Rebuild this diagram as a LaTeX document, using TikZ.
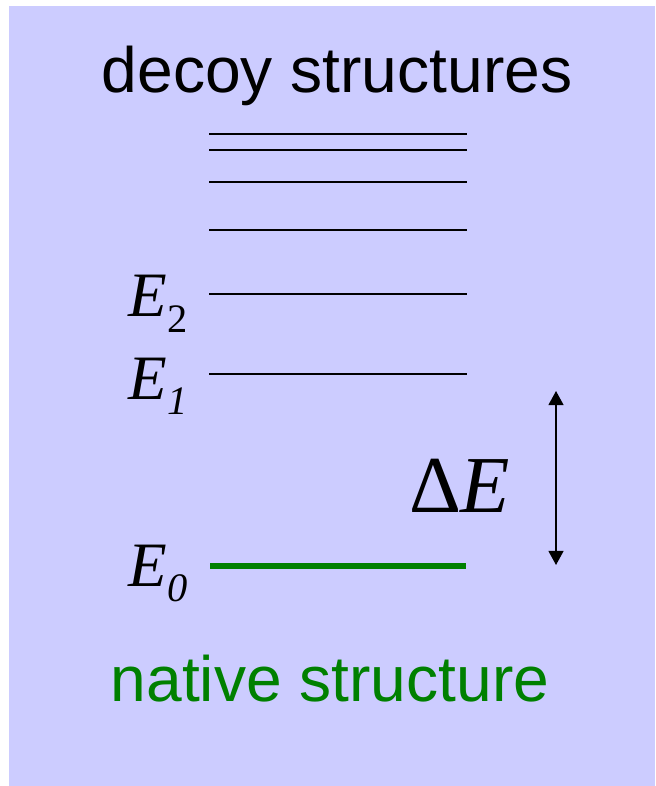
\documentclass[tikz,border=0pt]{standalone}
\usepackage{fontspec}
\setmainfont{Liberation Serif}
\newfontfamily\sansf{Liberation Sans}
\usetikzlibrary{arrows.meta}
\definecolor{bgblue}{RGB}{204,204,255}
\definecolor{nativegreen}{RGB}{0,128,0}
\newcommand{\elevel}[2]{\textit{E}\kern0.5pt\raisebox{-9pt}{\fontsize{23}{23}\selectfont#1#2}}
\begin{document}
\begin{tikzpicture}[x=0.02cm, y=-0.02cm, every node/.style={inner sep=0pt, outer sep=0pt},
    level/.style={line width=0.85pt, black},
    elab/.style={anchor=base west, font=\fontsize{36}{36}\selectfont}]
    \useasboundingbox (0,0) rectangle (655,786);
    \fill[bgblue] (9,6) rectangle (655,786);

    \node[anchor=base, font=\sansf\fontsize{36.5}{36.5}\selectfont] (decoy) at (337,93) {decoy structures};
    \node[anchor=base, font=\sansf\fontsize{36.5}{36.5}\selectfont, text=nativegreen] (native) at (330,701) {native structure};

    % decoy levels
    \foreach \y [count=\i] in {134,150,182,230,294,374} {
        \coordinate (l\i) at (209,\y);
        \coordinate (r\i) at (467,\y);
        \draw[level] (l\i)--(r\i);
    }
    \coordinate (l0) at (210,566);
    \coordinate (r0) at (466,566);
    \draw[line width=2.9pt, nativegreen] (l0)--(r0);

    \node[elab] (e2) at (128,317) {\elevel{\upshape}{2}};
    \node[elab] (e1) at (128,399) {\elevel{\itshape}{1}};
    \node[elab] (e0) at (128,586) {\elevel{\itshape}{0}};

    \coordinate (gaptop) at (556,391);
    \coordinate (gapbot) at (556,565);
    \draw[line width=0.85pt, {Triangle[width=8.5pt,length=8pt]}-{Triangle[width=8.5pt,length=8pt]}] (gaptop)--(gapbot);
    \node[anchor=base west, font=\fontsize{46}{46}\selectfont] (de) at (409,512) {Δ\textit{E}};
\end{tikzpicture}
\end{document}
